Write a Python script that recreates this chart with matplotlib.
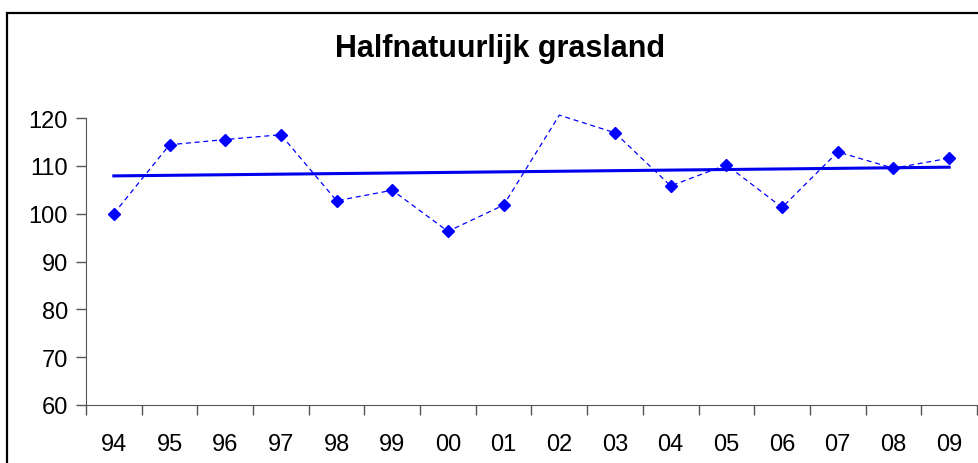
import numpy as np
import matplotlib
matplotlib.use('Agg')
from matplotlib import pyplot as plt
from matplotlib.patches import Rectangle

plt.rcParams['font.family'] = ['Liberation Sans', 'DejaVu Sans']

############## data ##############
jaren = ['94', '95', '96', '97', '98', '99', '00', '01', '02', '03', '04', '05', '06', '07', '08', '09']
index = [100.0, 114.4, 115.5, 116.5, 102.7, 104.9, 96.3, 101.8, 120.6, 116.9, 105.8, 110.2, 101.3, 112.9, 109.5, 111.6]
y_ticks = [60, 70, 80, 90, 100, 110, 120]

x = np.arange(len(jaren))
# lineaire trendlijn zoals Excel
coef = np.polyfit(x, index, 1)
trend = np.polyval(coef, x[[0, -1]])

fig = plt.figure(figsize=(9.79, 4.64), dpi=100)
ax = fig.add_axes([86/979, 1 - 406/464, (977 - 86)/979, (406 - 119)/464])

# stippellijn mag boven 120 uitsteken, markers buiten de as niet (zoals Excel)
ax.plot(x, index, color='blue', lw=0.9, ls=(0, (4, 3)), clip_on=False, zorder=2)
zichtbaar = [i for i, v in enumerate(index) if v <= y_ticks[-1]]
ax.plot(x, index, color='blue', lw=0, marker='D', ms=6.3, markevery=zichtbaar, zorder=3)
ax.plot(x[[0, -1]], trend, color='#0000ee', lw=2.2, zorder=4)

ax.set_xlim(-0.5, len(jaren) - 0.5)
ax.set_ylim(60, 120)
ax.set_yticks(y_ticks)
ax.set_xticks(np.arange(len(jaren) + 1) - 0.5, minor=False)
ax.set_xticklabels([])
ax.set_xticks(x, minor=True)
ax.set_xticklabels(jaren, minor=True)
ax.tick_params(axis='x', which='major', direction='out', length=7, width=1, color='#555555')
ax.tick_params(axis='x', which='minor', length=0, pad=20, labelsize=17)
ax.tick_params(axis='y', direction='out', length=7, width=1, color='#555555', labelsize=17, pad=6)

ax.spines['top'].set_visible(False)
ax.spines['right'].set_visible(False)
ax.spines['left'].set_color('#555555')
ax.spines['bottom'].set_color('#555555')

fig.text(500/979, 1 - 49/464, 'Halfnatuurlijk grasland', ha='center', va='center',
         fontsize=22, fontweight='bold')

# rand om de grafiek
fig.patches.append(Rectangle((7.5/979, -0.1), 1.2, 1.1 - 13.5/464, transform=fig.transFigure,
                             fill=False, edgecolor='black', lw=1.6))

plt.savefig('out.png', dpi=100)
